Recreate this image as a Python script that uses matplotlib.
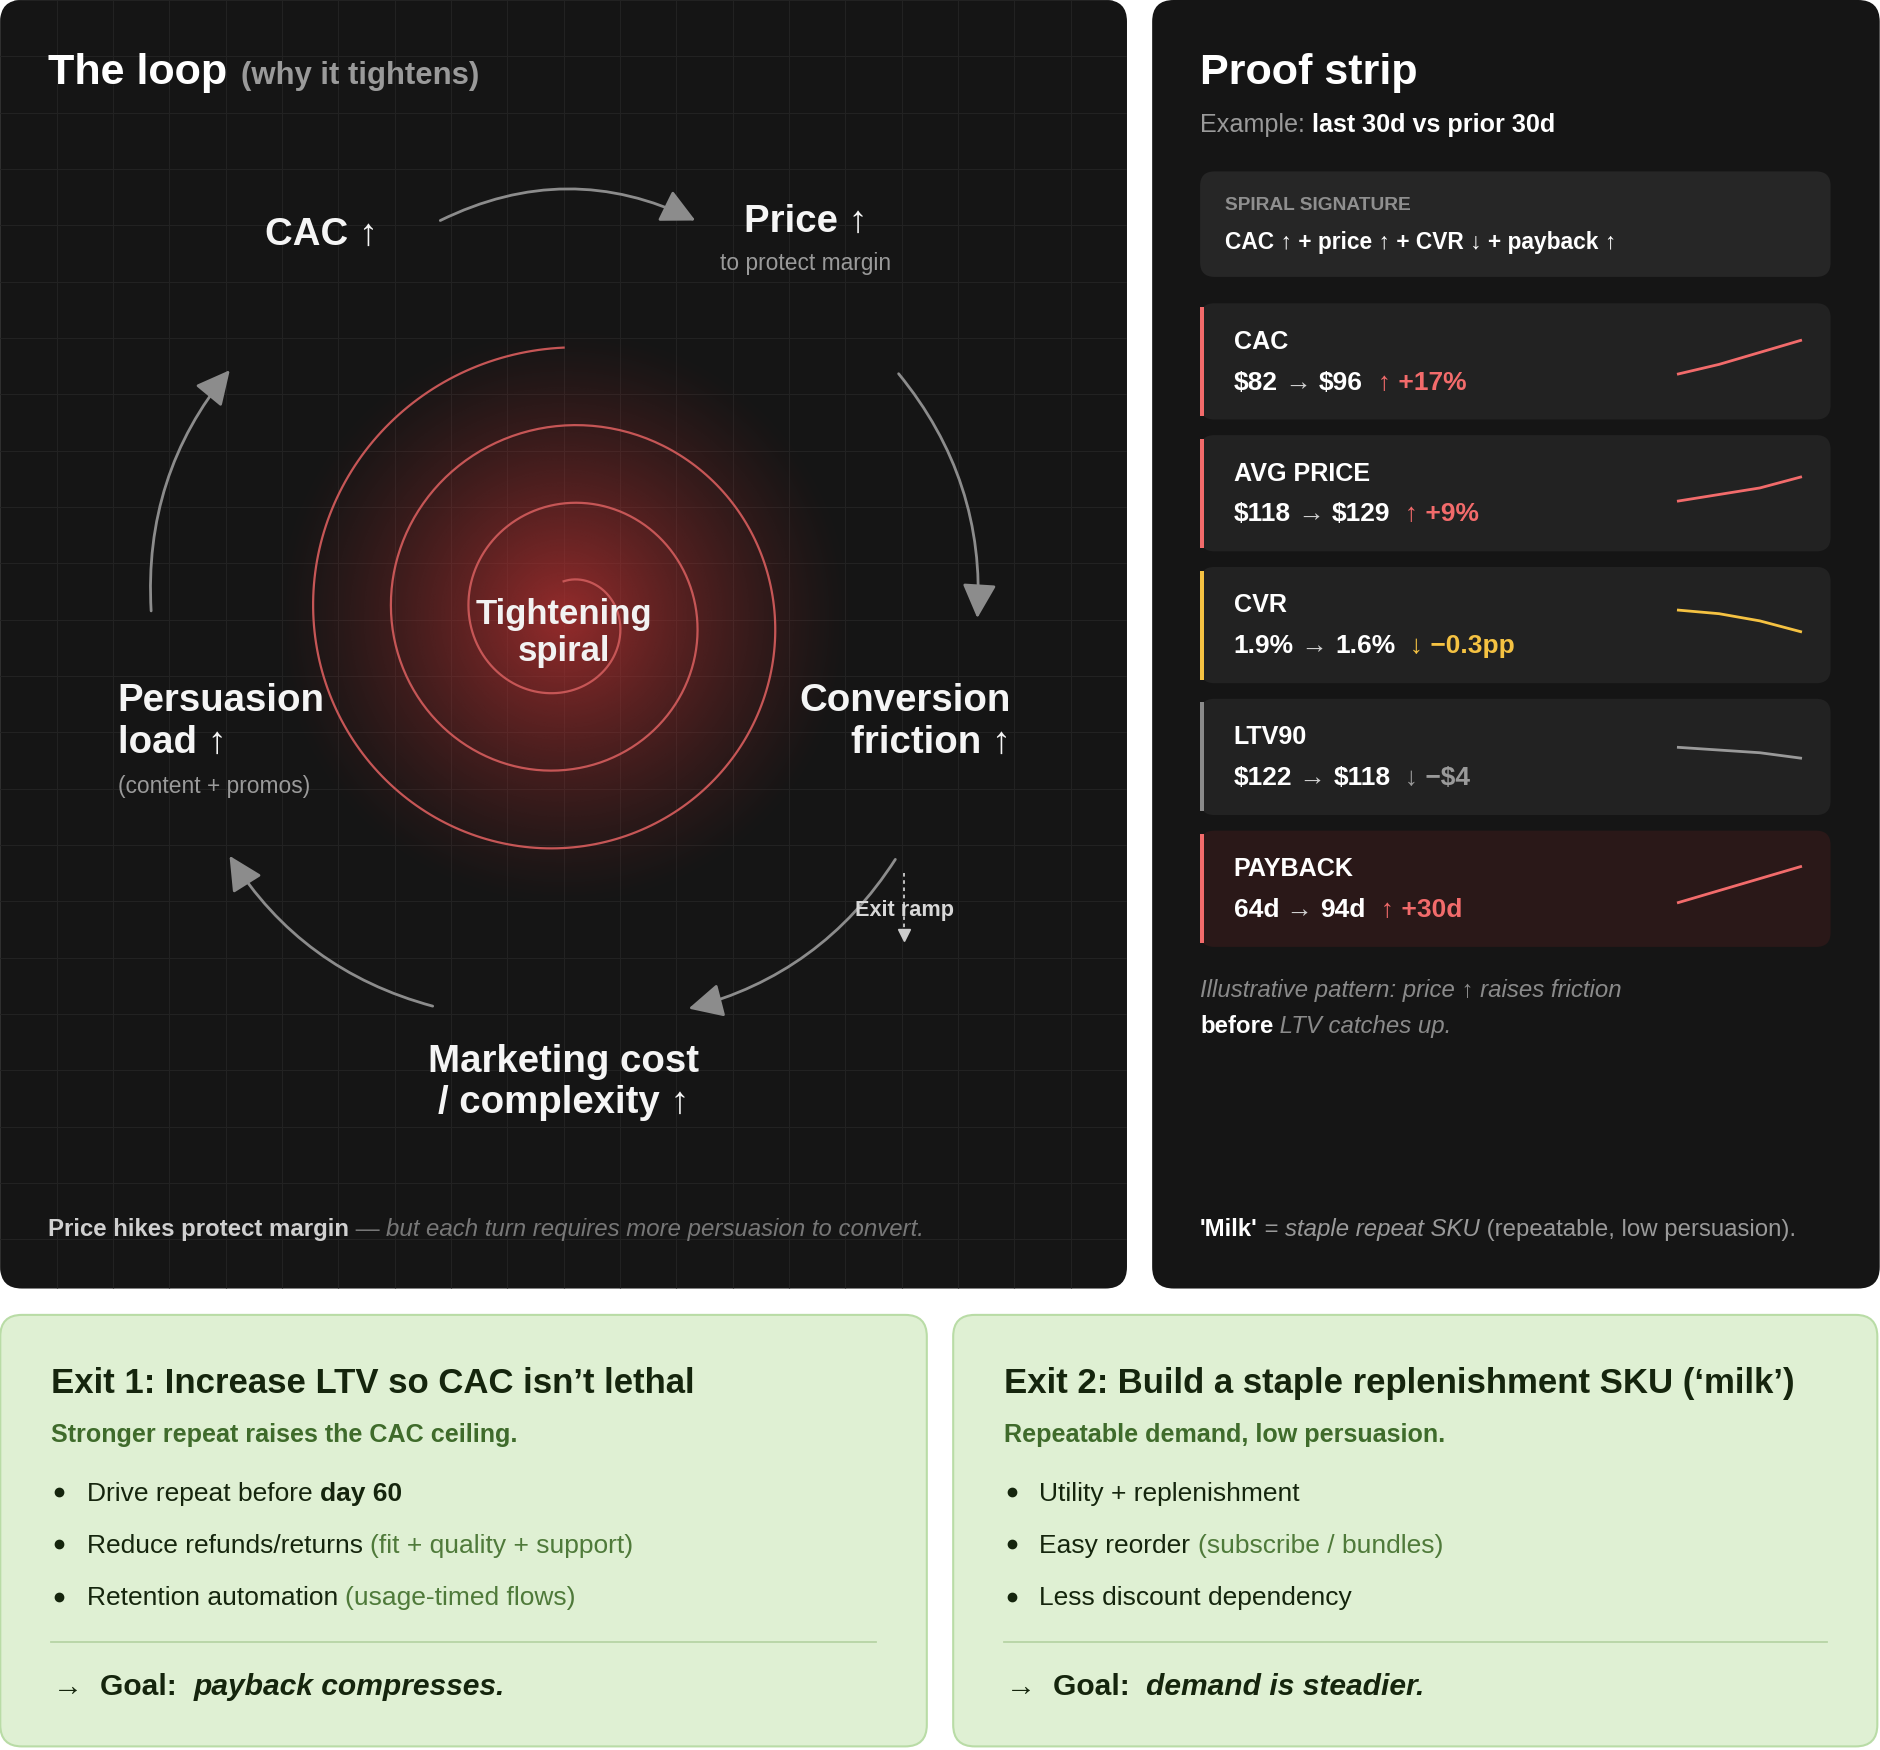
import numpy as np
import matplotlib.pyplot as plt
from matplotlib.patches import FancyBboxPatch, FancyArrowPatch, Rectangle

plt.rcParams['font.family'] = ['Liberation Sans', 'DejaVu Sans']

W, H = 1568, 1460
K = W / 1880 * 72 / 100 * 1880 / W  # display px -> pt
def fs(px):
    return px * 0.863

# ---- data ----
loop_nodes = ["CAC ↑", "Price ↑", "Conversion\nfriction ↑", "Marketing cost\n/ complexity ↑", "Persuasion\nload ↑"]
metric_names = ["CAC", "AVG PRICE", "CVR", "LTV90", "PAYBACK"]
metric_from = ["$82", "$118", "1.9%", "$122", "64d"]
metric_to = ["$96", "$129", "1.6%", "$118", "94d"]
metric_delta = ["↑ +17%", "↑ +9%", "↓ −0.3pp", "↓ −$4", "↑ +30d"]
spark = [[82, 86, 91, 96], [118, 121, 124, 129], [1.9, 1.85, 1.75, 1.6],
         [122, 121, 120, 118], [64, 74, 84, 94]]
exit1_bullets = [("Drive repeat before ", "day 60", ""), ("Reduce refunds/returns ", "", "(fit + quality + support)"),
                 ("Retention automation ", "", "(usage-timed flows)")]
exit2_bullets = [("Utility + replenishment", "", ""), ("Easy reorder ", "", "(subscribe / bundles)"),
                 ("Less discount dependency", "", "")]

fig = plt.figure(figsize=(18.8, 17.5), dpi=100)
ax = fig.add_axes([0, 0, 1, 1])
ax.set_xlim(0, W)
ax.set_ylim(H, 0)
ax.axis('off')
r = fig.canvas.get_renderer()

def box(x, y, w, h, fc, ec='none', rad=16, lw=1, z=1):
    p = FancyBboxPatch((x, y), w, h, boxstyle=f"round,pad=0,rounding_size={rad}",
                       fc=fc, ec=ec, lw=lw, zorder=z)
    ax.add_patch(p)
    return p

def runs(x, y, parts, size, va='baseline'):
    for s, kw in parts:
        t = ax.text(x, y, s, fontsize=fs(size), va=va, zorder=10, **kw)
        x += t.get_window_extent(r).width * W / 1880
    return x

# ---- left panel ----
lp = box(0, 0, 940, 1075, '#151515', rad=18)
for gx in np.arange(0, 940, 47):
    ax.plot([gx, gx], [0, 1075], color='#222222', lw=0.8, zorder=1.5, clip_path=lp)
for gy in np.arange(0, 1075, 47):
    ax.plot([0, 940], [gy, gy], color='#222222', lw=0.8, zorder=1.5, clip_path=lp)

# glow
yy, xx = np.mgrid[0:1, 0:1]
n = 400
gx, gy = np.meshgrid(np.linspace(-1, 1, n), np.linspace(-1, 1, n))
d = np.sqrt(gx**2 + gy**2)
img = np.zeros((n, n, 4))
img[..., 0] = 0.75; img[..., 1] = 0.2; img[..., 2] = 0.2
img[..., 3] = np.clip(0.75 * (1 - d) ** 1.3, 0, 1) * (d < 1)
ax.imshow(img, extent=(470 - 245, 470 + 245, 515 + 245, 515 - 245), zorder=2, interpolation='bilinear')
ax.set_xlim(0, W); ax.set_ylim(H, 0)

t = np.linspace(0, 6 * np.pi, 800)
rr = 30 + 195 * t / (6 * np.pi)
ang = -np.pi / 2 - t[::-1] * 1.0
ang = -np.pi / 2 + (t - t[-1])
ax.plot(470 + rr * np.cos(ang), 515 + rr * np.sin(ang) - 0, color='#c65656', lw=1.6, zorder=3)
ax.text(470, 528, "Tightening\nspiral", color='#f2f2f2', fontsize=fs(29), fontweight='bold',
        ha='center', va='center', linespacing=1.15, zorder=10)

arrows = [((365, 185), (582, 185), -0.25), ((748, 310), (815, 518), -0.2),
          ((748, 715), (572, 842), -0.2), ((363, 840), (190, 712), -0.2), ((126, 512), (193, 307), -0.2)]
for a, b, rad in arrows:
    ax.add_patch(FancyArrowPatch(a, b, connectionstyle=f"arc3,rad={rad}", arrowstyle='-|>,head_length=14,head_width=7',
                                 color='#8c8c8c', lw=2, zorder=4, mutation_scale=1.5))
ax.plot([754, 754], [728, 775], color='#cccccc', lw=1.3, ls=(0, (2, 2)), zorder=4)
ax.plot([754], [780], marker='v', color='#cccccc', ms=9, zorder=4)
ax.text(754, 760, "Exit ramp", color='#d8d8d8', fontsize=fs(18), fontweight='bold', ha='center', va='center', zorder=10)

runs(40, 70, [("The loop", dict(color='white', fontweight='bold')), ], 36)
ax.text(201, 70, "(why it tightens)", color='#9a9a9a', fontsize=fs(26), fontweight='bold', zorder=10)
white = dict(color='#f5f5f5', fontweight='bold')
ax.text(268, 196, loop_nodes[0], fontsize=fs(32), ha='center', va='center', **white)
ax.text(672, 185, loop_nodes[1], fontsize=fs(32), ha='center', va='center', **white)
ax.text(672, 220, "to protect margin", fontsize=fs(19), ha='center', va='center', color='#9a9a9a')
ax.text(843, 602, loop_nodes[2], fontsize=fs(32), ha='right', va='center', linespacing=1.2, **white)
ax.text(470, 903, loop_nodes[3], fontsize=fs(32), ha='center', va='center', linespacing=1.2, **white)
ax.text(98, 602, loop_nodes[4], fontsize=fs(32), ha='left', va='center', linespacing=1.2, **white)
ax.text(98, 656, "(content + promos)", fontsize=fs(19), ha='left', va='center', color='#9a9a9a')
runs(40, 1031, [("Price hikes protect margin", dict(color='#d0d0d0', fontweight='bold')),
                (" — ", dict(color='#777777')),
                ("but each turn requires more persuasion to convert.", dict(color='#777777', style='italic'))], 20)

# ---- right panel ----
box(961, 0, 607, 1075, '#151515', rad=18)
ax.text(1001, 70, "Proof strip", color='white', fontsize=fs(36), fontweight='bold', zorder=10)
runs(1001, 110, [("Example: ", dict(color='#9a9a9a')), ("last 30d vs prior 30d", dict(color='white', fontweight='bold'))], 21)
box(1001, 143, 526, 88, '#262626', rad=12, z=2)
ax.text(1022, 175, "SPIRAL SIGNATURE", color='#8f8f8f', fontsize=fs(16), fontweight='bold', zorder=10)
ax.text(1022, 208, "CAC ↑ + price ↑ + CVR ↓ + payback ↑", color='white', fontsize=fs(19), fontweight='bold', zorder=10)

accent = ['#f26b6b', '#f26b6b', '#f5c242', '#8a8a8a', '#f26b6b']
card_fc = ['#222222', '#222222', '#222222', '#222222', '#2a1818']
spark_h = [28, 20, 18, 9, 30]
for i in range(5):
    y0 = 253 + i * 110
    box(1001, y0, 526, 97, card_fc[i], rad=12, z=2)
    ax.add_patch(Rectangle((1001, y0 + 3), 3.5, 91, fc=accent[i], zorder=3))
    ax.text(1029, y0 + 38, metric_names[i], color='white', fontsize=fs(21), fontweight='bold', zorder=10)
    dcol = '#9a9a9a' if i == 3 else accent[i]
    runs(1029, y0 + 72, [(metric_from[i], dict(color='white', fontweight='bold')), (" → ", dict(color='#cfcfcf')),
                         (metric_to[i], dict(color='white', fontweight='bold')), ("  " + metric_delta[i], dict(color=dcol, fontweight='bold'))], 22)
    v = np.array(spark[i], float)
    vn = (v - v.min()) / (v.max() - v.min())
    mid = y0 + 45
    ys = mid + spark_h[i] / 2 - vn * spark_h[i]
    ax.plot(np.linspace(1400, 1502, len(v)), ys, color=dcol if i != 3 else '#9a9a9a', lw=2, zorder=4)

runs(1001, 832, [("Illustrative pattern: price ↑ raises friction", dict(color='#8a8a8a', style='italic'))], 20)
runs(1001, 862, [("before", dict(color='white', fontweight='bold')), (" LTV catches up.", dict(color='#8a8a8a', style='italic'))], 20)
runs(1001, 1031, [("'Milk'", dict(color='white', fontweight='bold')), (" = ", dict(color='#9a9a9a')),
                  ("staple repeat SKU", dict(color='#9a9a9a', style='italic')),
                  (" (repeatable, low persuasion).", dict(color='#9a9a9a'))], 20)

# ---- bottom cards ----
def card(x0, w, head, title, sub, bullets, goal):
    box(x0, 1097, w, 360, '#dff0d3', ec='#b9dca6', rad=18, lw=1.5)
    runs(x0 + 42, 1162, [(head, dict(color='#15250d', fontweight='bold')), (title, dict(color='#15250d', fontweight='bold'))], 29)
    ax.text(x0 + 42, 1203, sub, color='#3f6b2b', fontsize=fs(21), fontweight='bold', zorder=10)
    for j, (a, b, c) in enumerate(bullets):
        y = 1252 + j * 43.5
        ax.plot(x0 + 49, y - 7, 'o', color='#15250d', ms=6, zorder=10)
        parts = [(a, dict(color='#15250d'))]
        if b:
            parts.append((b, dict(color='#15250d', fontweight='bold')))
        if c:
            parts.append((c, dict(color='#4f7a3a')))
        runs(x0 + 72, y, parts, 22)
    ax.plot([x0 + 42, x0 + w - 42], [1370, 1370], color='#b7d4a5', lw=1.3, zorder=5)
    runs(x0 + 44, 1414, [("→  ", dict(color='#15250d')), ("Goal:  ", dict(color='#15250d', fontweight='bold')),
                         (goal, dict(color='#15250d', fontweight='bold', style='italic'))], 25)

card(0, 773, "Exit 1:", " Increase LTV so CAC isn’t lethal", "Stronger repeat raises the CAC ceiling.",
     exit1_bullets, "payback compresses.")
card(795, 771, "Exit 2:", " Build a staple replenishment SKU (‘milk’)", "Repeatable demand, low persuasion.",
     exit2_bullets, "demand is steadier.")

fig.savefig('out.png', dpi=100, facecolor='white')
